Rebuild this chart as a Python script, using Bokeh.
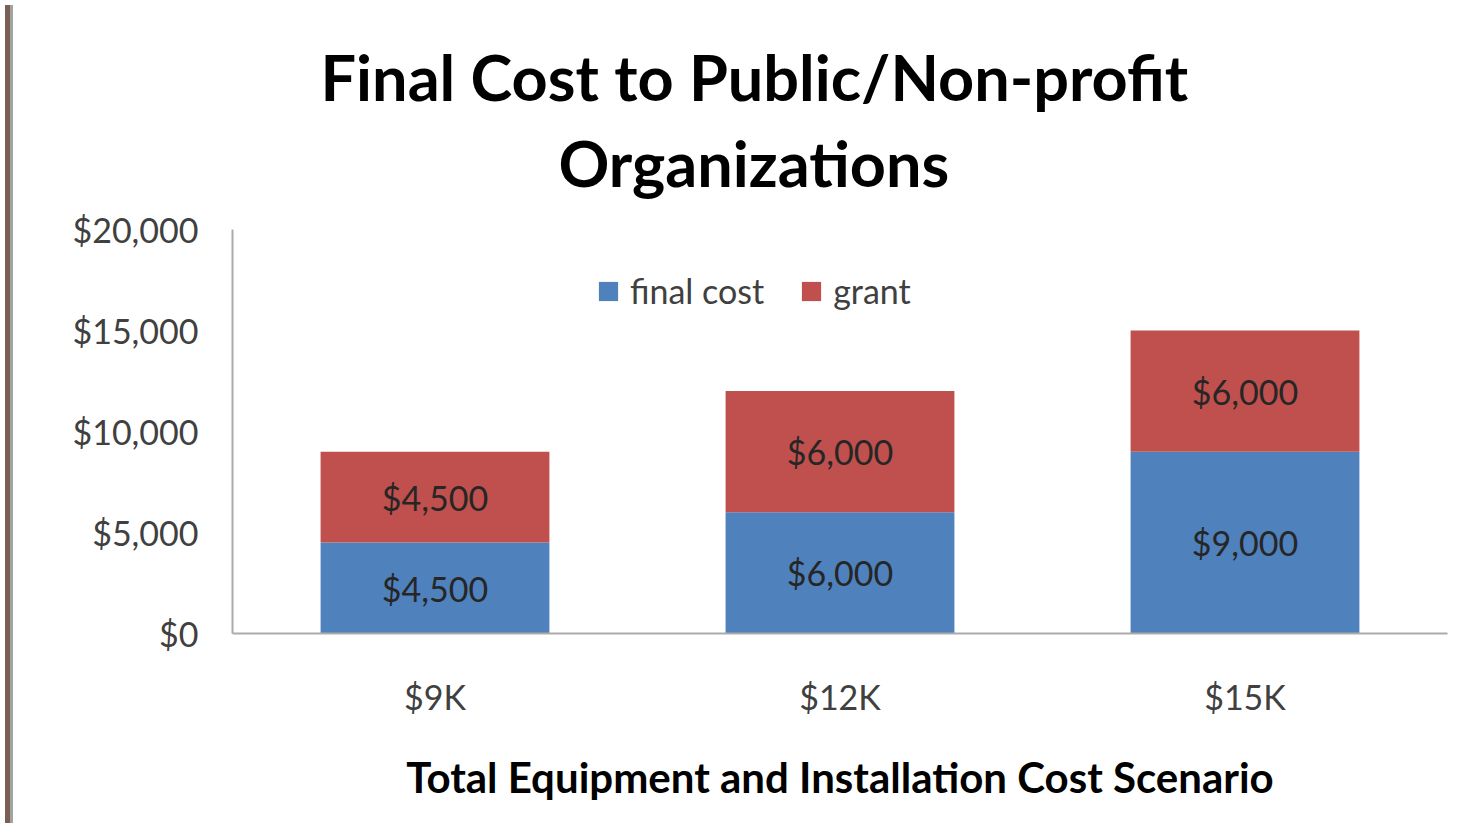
from bokeh.plotting import figure
from bokeh.models import (ColumnDataSource, Range1d, FactorRange, Legend, LegendItem,
                          Title, LabelSet, NumeralTickFormatter, FixedTicker, Div)
from bokeh.layouts import row
from bokeh.embed import file_html
from bokeh.resources import INLINE
from bokeh.core.properties import value

# ---- data ----
scenarios = ["$9K", "$12K", "$15K"]
final_cost = [4500, 6000, 9000]
grant = [4500, 6000, 6000]
y_ticks = [0, 5000, 10000, 15000, 20000]

BLUE = "#4F81BD"
RED = "#C0504D"
FONT = "Lato"

src = ColumnDataSource(dict(x=scenarios, final_cost=final_cost, grant=grant))

p = figure(x_range=FactorRange(*scenarios, range_padding=0.0),
           y_range=Range1d(0, 20000),
           width=1456, height=818, title=None,
           min_border_left=214, min_border_right=27,
           min_border_top=229, min_border_bottom=185,
           output_backend="svg", toolbar_location=None)

rs = p.vbar_stack(["final_cost", "grant"], x="x", width=0.565, source=src,
                  color=[BLUE, RED], line_color=None)

# data labels
lab_x, lab_y, lab_t = [], [], []
for s, f, g in zip(scenarios, final_cost, grant):
    lab_x += [s, s]
    lab_y += [f / 2, f + g / 2]
    lab_t += [f"${f:,}", f"${g:,}"]
lsrc = ColumnDataSource(dict(x=lab_x, y=lab_y, t=lab_t))
p.add_layout(LabelSet(x="x", y="y", text="t", source=lsrc, text_align="center",
                      text_baseline="middle", text_font=value(FONT),
                      text_font_size="34px", text_color="#262626"))

# axes
p.xgrid.visible = False
p.ygrid.visible = False
p.outline_line_color = None
p.background_fill_color = "white"
p.border_fill_color = "white"

p.yaxis.ticker = FixedTicker(ticks=y_ticks)
p.yaxis.formatter = NumeralTickFormatter(format="$0,0")
for ax in (p.xaxis[0], p.yaxis[0]):
    ax.axis_line_color = "#ababab"
    ax.axis_line_width = 2
    ax.major_tick_line_color = None
    ax.minor_tick_line_color = None
    ax.major_tick_out = 0
    ax.major_tick_in = 0
    ax.major_label_text_font = FONT
    ax.major_label_text_font_size = "34px"
    ax.major_label_text_color = "#404040"
p.yaxis.major_label_standoff = 34
p.xaxis.major_label_standoff = 42

p.xaxis.axis_label = "Total Equipment and Installation Cost Scenario"
p.xaxis.axis_label_text_font = FONT
p.xaxis.axis_label_text_font_size = "42px"
p.xaxis.axis_label_text_font_style = "bold"
p.xaxis.axis_label_text_color = "black"
p.xaxis.axis_label_standoff = 32

# title lines (above)
p.add_layout(Title(text="Organizations", align="left", offset=326,
                   text_font=FONT, text_font_size="63px", text_font_style="bold",
                   text_color="black", standoff=60), "above")
t1 = Title(text="Final Cost to Public/Non-profit", align="left", offset=88,
           text_font=FONT, text_font_size="63px", text_font_style="bold",
           text_color="black", standoff=0)
try:
    t1.standoff = -42
except Exception:
    pass
p.add_layout(t1, "above")

# legend
legend = Legend(items=[LegendItem(label="final cost", renderers=[rs[0]]),
                       LegendItem(label="grant", renderers=[rs[1]])],
                location=(364, 322), orientation="horizontal",
                glyph_width=24, glyph_height=24, label_standoff=10, spacing=35,
                padding=0, margin=0, border_line_color=None,
                background_fill_alpha=0,
                label_text_font=FONT, label_text_font_size="34px",
                label_text_color="#404040")
p.add_layout(legend, "center")

strip = Div(width=8, height=818,
            styles={"background": "linear-gradient(to right, #7a5f55 0px, #7a5f55 5px, #a3a3a3 5px, #a3a3a3 8px)"})
layout = row(strip, p, spacing=0)

open("out.html", "w").write(file_html(layout, INLINE))
